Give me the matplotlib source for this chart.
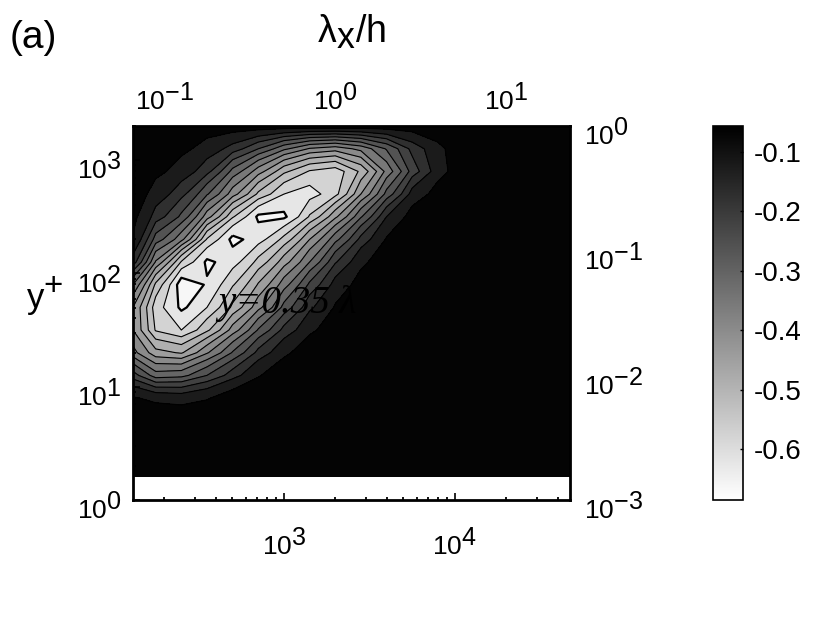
import numpy as np
import matplotlib
matplotlib.use('Agg')
import matplotlib.pyplot as plt
import matplotlib._mathtext as mt
from matplotlib.cm import ScalarMappable
from matplotlib.colors import Normalize
from matplotlib.ticker import FixedLocator, NullFormatter
from matplotlib.transforms import ScaledTranslation

plt.rcParams['font.family'] = ['Liberation Sans', 'DejaVu Sans']
plt.rcParams['mathtext.default'] = 'regular'
plt.rcParams['axes.unicode_minus'] = False
# exponents in the reference are almost as big as the base
mt.SHRINK_FACTOR = 0.95

Re_tau = 2000.0

# wavelength and wall distance of the grid
lam_plus = 10 ** np.array([2.117, 2.25, 2.4, 2.55, 2.7, 2.85, 3.0, 3.15, 3.3, 3.45, 3.6, 3.75, 3.9, 4.05, 4.2, 4.673])
y_plus = 10 ** np.array([3.3, 3.1, 2.9, 2.7, 2.5, 2.3, 2.1, 1.9, 1.7, 1.5, 1.3, 1.1, 0.9, 0.7, 0.5, 0.21])

# correlation values, one row per y_plus
row_33 = [-.05, -.05, -.06, -.06, -.06, -.06, -.06, -.06, -.06, -.06, -.06, -.06, -.05, -.05, -.05, -.05]
row_31 = [-.05, -.06, -.08, -.12, -.17, -.24, -.32, -.38, -.40, -.36, -.28, -.18, -.11, -.05, -.05, -.05]
row_29 = [-.05, -.08, -.12, -.18, -.30, -.40, -.50, -.56, -.58, -.50, -.36, -.22, -.12, -.05, -.05, -.05]
row_27 = [-.06, -.12, -.18, -.28, -.40, -.52, -.60, -.62, -.57, -.42, -.27, -.13, -.07, -.05, -.05, -.05]
row_25 = [-.08, -.17, -.25, -.40, -.55, -.655, -.655, -.55, -.43, -.29, -.15, -.07, -.05, -.05, -.05, -.05]
row_23 = [-.10, -.26, -.36, -.56, -.66, -.62, -.54, -.42, -.30, -.18, -.09, -.05, -.05, -.05, -.05, -.05]
row_21 = [-.17, -.38, -.56, -.655, -.62, -.54, -.44, -.33, -.20, -.11, -.05, -.05, -.05, -.05, -.05, -.05]
row_19 = [-.33, -.52, -.675, -.64, -.56, -.46, -.35, -.23, -.13, -.07, -.05, -.05, -.05, -.05, -.05, -.05]
row_17 = [-.42, -.58, -.655, -.60, -.50, -.39, -.27, -.16, -.09, -.05, -.05, -.05, -.05, -.05, -.05, -.05]
row_15 = [-.42, -.56, -.60, -.52, -.40, -.28, -.18, -.11, -.05, -.05, -.05, -.05, -.05, -.05, -.05, -.05]
row_13 = [-.36, -.45, -.47, -.38, -.28, -.18, -.11, -.05, -.05, -.05, -.05, -.05, -.05, -.05, -.05, -.05]
row_11 = [-.22, -.31, -.30, -.24, -.17, -.10, -.05, -.05, -.05, -.05, -.05, -.05, -.05, -.05, -.05, -.05]
row_09 = [-.09, -.11, -.12, -.10, -.06, -.05, -.05, -.05, -.05, -.05, -.05, -.05, -.05, -.05, -.05, -.05]
row_07 = [-.05, -.05, -.05, -.05, -.05, -.05, -.05, -.05, -.05, -.05, -.05, -.05, -.05, -.05, -.05, -.05]
row_05 = [-.05, -.05, -.05, -.05, -.05, -.05, -.05, -.05, -.05, -.05, -.05, -.05, -.05, -.05, -.05, -.05]
row_02 = [-.05, -.05, -.05, -.05, -.05, -.05, -.05, -.05, -.05, -.05, -.05, -.05, -.05, -.05, -.05, -.05]
corr = np.array([row_33, row_31, row_29, row_27, row_25, row_23, row_21, row_19,
                 row_17, row_15, row_13, row_11, row_09, row_07, row_05, row_02])

levels = [-.686, -.645, -.60, -.555, -.51, -.465, -.42, -.375, -.33, -.285, -.24, -.195, -.15, -.095, -.04]
cbar_ticks = [-0.1, -0.2, -0.3, -0.4, -0.5, -0.6]

W, H = 830.0, 623.0
fig = plt.figure(figsize=(8.3, 6.23), dpi=100)
ax = fig.add_axes([133 / W, 1 - 500 / H, 437 / W, 374 / H])

norm = Normalize(-0.686, -0.056)
ax.contourf(lam_plus, y_plus, corr, levels=levels, cmap='gray_r', norm=norm)
ax.contour(lam_plus, y_plus, corr, levels=levels[1:-1], colors='k', linestyles='solid',
           linewidths=[1.6] + [0.8] * (len(levels) - 3))

ax.set_xscale('log')
ax.set_yscale('log')
ax.set_xlim(131, 47100)
ax.set_ylim(1, 2000)
ax.xaxis.set_major_locator(FixedLocator([1e3, 1e4]))
ax.set_xticklabels(['$10^{3}$', '$10^{4}$'])
ax.yaxis.set_major_locator(FixedLocator([1, 10, 100, 1000]))
ax.set_yticklabels(['$10^{0}$', '$10^{1}$', '$10^{2}$', '$10^{3}$'])
ax.tick_params(axis='x', which='major', direction='in', length=5, width=1.2, labelsize=19, pad=20)
ax.tick_params(axis='y', which='major', direction='in', length=5, width=1.2, labelsize=19, pad=8)
ax.tick_params(which='minor', direction='in', length=2.5, width=1.3)
ax.xaxis.set_minor_formatter(NullFormatter())
ax.yaxis.set_minor_formatter(NullFormatter())
for s in ax.spines.values():
    s.set_linewidth(2.0)

# top axis in outer units
top = ax.secondary_xaxis('top', functions=(lambda v: v / Re_tau, lambda v: v * Re_tau))
top.set_xticks([0.1, 1, 10], labels=['$10^{-1}$', '$10^{0}$', '$10^{1}$'])
top.tick_params(axis='x', which='major', direction='in', length=0, labelsize=19, pad=8)
top.tick_params(axis='x', which='minor', length=0, labeltop=False)

# right axis spans exactly three decades
right = ax.twinx()
right.set_yscale('log')
right.set_ylim(1e-3, 1)
right.yaxis.set_major_locator(FixedLocator([0.001, 0.01, 0.1, 1]))
right.set_yticklabels(['$10^{-3}$', '$10^{-2}$', '$10^{-1}$', '$10^{0}$'])
right.tick_params(axis='y', which='major', direction='in', length=0, labelsize=19, pad=10)
right.tick_params(axis='y', which='minor', length=0, labelright=False)
right.patch.set_visible(False)
for s in right.spines.values():
    s.set_visible(False)

# side labels sit a little under their ticks
shift = ScaledTranslation(0, -4 / 72, fig.dpi_scale_trans)
for lab in ax.get_yticklabels() + right.get_yticklabels():
    lab.set_transform(lab.get_transform() + shift)

ax.text(218 / W, 1 - 313 / H, 'y=0.35 λ', transform=fig.transFigure, fontsize=28,
        family=['Liberation Serif', 'DejaVu Serif'], style='italic', color='k', clip_on=True)

fig.text(10 / W, 1 - 48 / H, '(a)', fontsize=28)
fig.text(317 / W, 1 - 43 / H, r'$\lambda_x$/h', fontsize=27)
fig.text(26 / W, 1 - 309 / H, '$y^{+}$', fontsize=25)

cax = fig.add_axes([713 / W, 1 - 500 / H, 30 / W, 374 / H])
cb = fig.colorbar(ScalarMappable(norm=norm, cmap='gray_r'), cax=cax)
cb.set_ticks(cbar_ticks, labels=['%.1f' % t for t in cbar_ticks])
cb.ax.tick_params(direction='in', length=2, width=1, labelsize=20, pad=8)
cb.outline.set_linewidth(1.2)

fig.savefig('out.png', dpi=100)
